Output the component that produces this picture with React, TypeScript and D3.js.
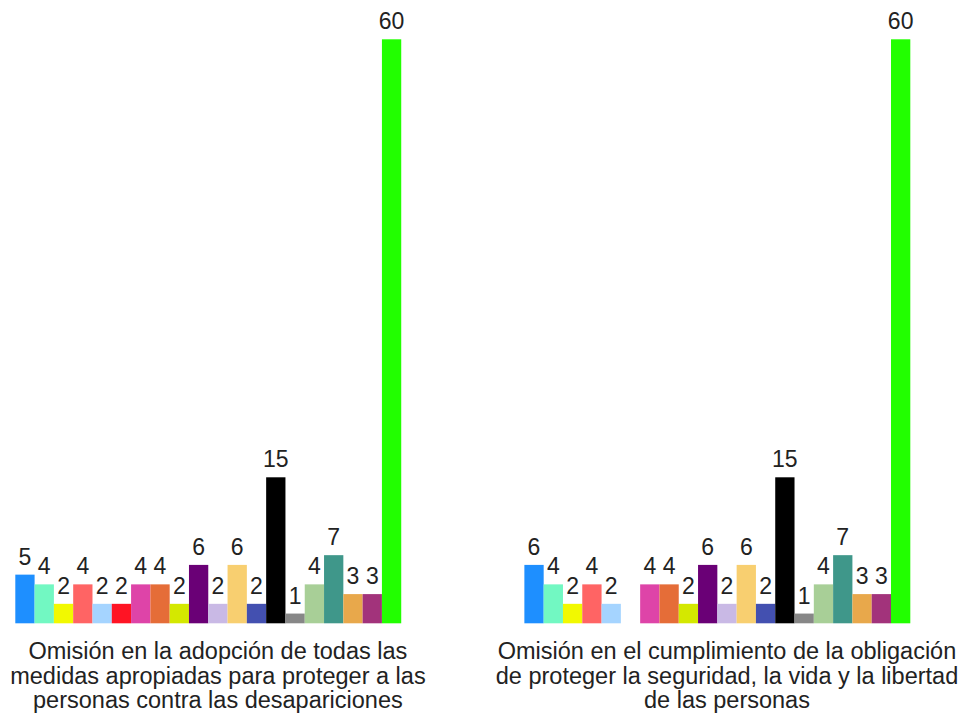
import * as d3 from 'd3';
import { useMemo } from 'react';

// group labels, already broken into lines as in the picture
const groupLabels: string[][] = [
  [
    'Omisión en la adopción de todas las',
    'medidas apropiadas para proteger a las',
    'personas contra las desapariciones',
  ],
  [
    'Omisión en el cumplimiento de la obligación',
    'de proteger la seguridad, la vida y la libertad',
    'de las personas',
  ],
];

// one colour per series (no legend in the source)
const seriesColors = [
  '#1e8fff', '#72f8c2', '#f2f900', '#ff6464', '#a5d4ff',
  '#ff1424', '#de44a8', '#e56d38', '#d4e800', '#6a0076',
  '#c9b9e5', '#f8cf70', '#4350b0', '#000000', '#878787',
  '#a8cf97', '#3f978a', '#e8a84b', '#a2337b', '#22ff00',
];

// values per group, null = no bar
const group1Values: (number | null)[] = [
  5, 4, 2, 4, 2, 2, 4, 4, 2, 6, 2, 6, 2, 15, 1, 4, 7, 3, 3, 60,
];
const group2Values: (number | null)[] = [
  6, 4, 2, 4, 2, null, 4, 4, 2, 6, 2, 6, 2, 15, 1, 4, 7, 3, 3, 60,
];

const W = 959;
const H = 714;
const font = '"Liberation Sans", Arial, sans-serif';

export default function App() {
  const groups = [group1Values, group2Values];
  const baseline = 623.3;

  const x0 = useMemo(
    () =>
      d3
        .scaleBand<number>()
        .domain(d3.range(groups.length))
        .range([15.3, 929.6])
        .paddingInner(0.204),
    []
  );

  // one spare slot at the end of every group
  const x1 = useMemo(
    () =>
      d3
        .scaleBand<number>()
        .domain(d3.range(seriesColors.length + 1))
        .range([0, x0.bandwidth()]),
    [x0]
  );

  const y = useMemo(() => {
    const max = d3.max(groups.flat(), (d) => d ?? 0) ?? 0;
    return d3.scaleLinear().domain([0, max]).range([baseline, 39.3]);
  }, []);

  return (
    <svg
      width={W}
      height={H}
      style={{ position: 'absolute', left: 0, top: 0 }}
      fontFamily={font}
    >
      {groups.map((vals, gi) => (
        <g key={gi} transform={`translate(${x0(gi)},0)`}>
          {vals.map((v, si) =>
            v == null ? null : (
              <g key={si}>
                <rect
                  x={x1(si)}
                  y={y(v)}
                  width={x1.bandwidth()}
                  height={baseline - y(v)}
                  fill={seriesColors[si]}
                />
                <text
                  x={(x1(si) ?? 0) + x1.bandwidth() / 2}
                  y={y(v) - 10}
                  textAnchor="middle"
                  fontSize={23}
                  fill="#222"
                >
                  {v}
                </text>
              </g>
            )
          )}
          <text
            x={x0.bandwidth() / 2}
            textAnchor="middle"
            fontSize={23.5}
            fill="#222"
          >
            {groupLabels[gi].map((line, li) => (
              <tspan key={li} x={x0.bandwidth() / 2} y={659 + li * 24.5}>
                {line}
              </tspan>
            ))}
          </text>
        </g>
      ))}
    </svg>
  );
}
